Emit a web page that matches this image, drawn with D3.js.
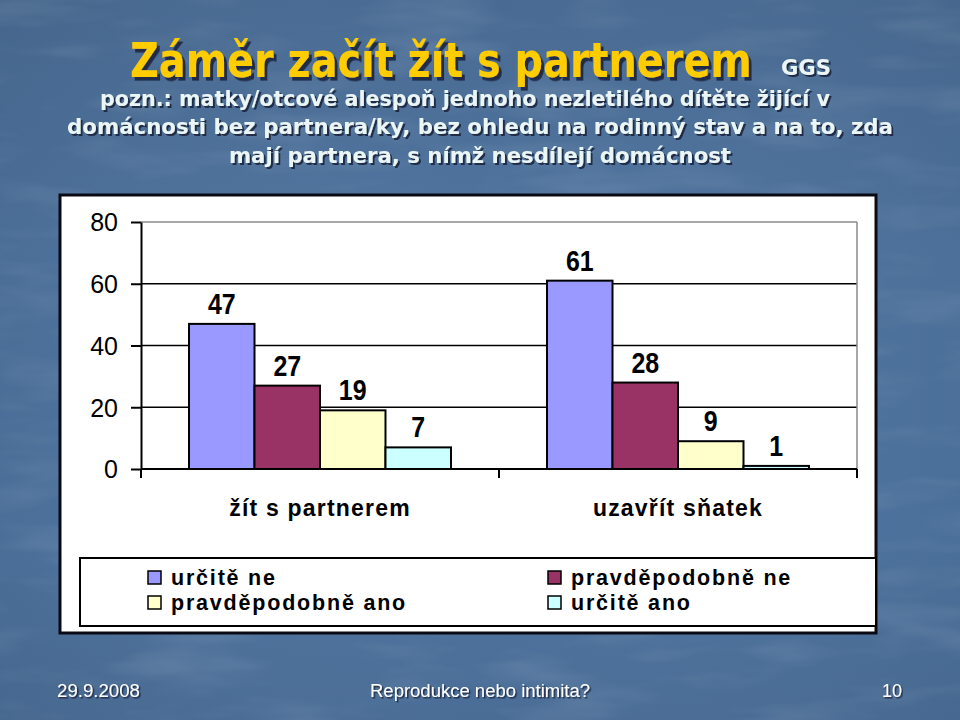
<!DOCTYPE html>
<html><head><meta charset="utf-8">
<script src="https://cdn.jsdelivr.net/npm/d3@7"></script>
<style>body{margin:0;background:#4b6f98;} svg{display:block}</style>
</head><body><svg id="c" width="960" height="720"></svg>
<script>
// ---- data ----
const categories = ["žít s partnerem", "uzavřít sňatek"];
const seriesNames = ["určitě ne", "pravděpodobně ne", "pravděpodobně ano", "určitě ano"];
const zitSPartnerem = [47, 27, 19, 7];
const uzavritSnatek = [61, 28, 9, 1];
const yTicks = [0, 20, 40, 60, 80];
const seriesColors = ["#9999FF", "#993366", "#FFFFCC", "#CCFFFF"];
const titleText = "Záměr začít žít s partnerem";
const tagText = "GGS";
const subtitleLines = [
  "pozn.: matky/otcové alespoň jednoho nezletilého dítěte žijící v",
  "domácnosti bez partnera/ky, bez ohledu na rodinný stav a na to, zda",
  "mají partnera, s nímž nesdílejí domácnost"
];
const footerDate = "29.9.2008";
const footerTitle = "Reprodukce nebo intimita?";
const footerPage = "10";

const table = categories.map((c, i) => ({
  cat: c,
  values: (i === 0 ? zitSPartnerem : uzavritSnatek).map((v, j) => ({ key: seriesNames[j], value: v, color: seriesColors[j] }))
}));

// ---- layout ----
const svg = d3.select("#c");
const defs = svg.append("defs");
const g1 = defs.append("linearGradient").attr("id", "bg").attr("x1", 0).attr("y1", 0).attr("x2", 0).attr("y2", 1);
[[0, "#496b93"], [0.35, "#4f749f"], [0.75, "#4e74a0"], [1, "#4a6d96"]].forEach(([o, c]) => g1.append("stop").attr("offset", o).attr("stop-color", c));
const g2 = defs.append("linearGradient").attr("id", "bg2").attr("x1", 0).attr("y1", 0).attr("x2", 1).attr("y2", 0);
[[0, "#000", 0.05], [0.5, "#fff", 0.0], [1, "#000", 0.04]].forEach(([o, c, a]) => g2.append("stop").attr("offset", o).attr("stop-color", c).attr("stop-opacity", a));
const f = defs.append("filter").attr("id", "tex").attr("x", 0).attr("y", 0).attr("width", 1).attr("height", 1);
f.append("feTurbulence").attr("type", "fractalNoise").attr("baseFrequency", "0.008 0.035").attr("numOctaves", 3).attr("seed", 4);
f.append("feColorMatrix").attr("values", "0 0 0 0 1  0 0 0 0 1  0 0 0 0 1  1.2 0 0 0 -0.55");
function shadowFilter(id, d) {
  const s = defs.append("filter").attr("id", id).attr("x", 0).attr("y", 0).attr("width", 1.03).attr("height", 1.1);
  s.append("feDropShadow").attr("dx", d).attr("dy", d).attr("stdDeviation", 0.5)
    .attr("flood-color", "#16233a").attr("flood-opacity", 0.85);
}
shadowFilter("sh3", 3); shadowFilter("sh2", 2); shadowFilter("sh1", 1.5);

svg.append("rect").attr("width", 960).attr("height", 720).attr("fill", "url(#bg)");
svg.append("rect").attr("width", 960).attr("height", 720).attr("fill", "url(#bg2)");
svg.append("rect").attr("width", 960).attr("height", 720).attr("filter", "url(#tex)").attr("opacity", 0.18);

function shadowText(sel, x, y, txt, opts) {
  return sel.append("text").attr("x", x).attr("y", y).text(txt)
    .attr("font-family", opts.family).attr("font-weight", opts.weight || "bold").attr("font-size", opts.size)
    .attr("fill", opts.fill).attr("text-anchor", opts.anchor || "start")
    .attr("textLength", opts.width || null).attr("lengthAdjust", "spacingAndGlyphs")
    .attr("filter", `url(#${opts.sh})`);
}
// text whose natural width is fitted by font size, then stretched vertically to the wanted glyph height
function fittedText(sel, x, y, txt, opts) {
  const g = sel.append("g");
  const t = g.append("text").attr("x", 0).attr("y", 0).text(txt)
    .attr("font-family", opts.family).attr("font-weight", "bold").attr("font-size", opts.size)
    .attr("fill", opts.fill).attr("filter", `url(#${opts.sh})`);
  const w = t.node().getComputedTextLength();
  const fs = opts.size * opts.width / w;
  t.attr("font-size", fs);
  g.attr("transform", `translate(${x},${y}) scale(1,${opts.size / fs})`);
  return t;
}

// title
const df = "'DejaVu Sans', Verdana, sans-serif";
fittedText(svg, 130, 77, titleText, { family: df, size: 48, fill: "#FFCC00", width: 622, sh: "sh3" });
shadowText(svg, 781, 75, tagText, { family: df, size: 21, fill: "#EAF5F6", width: 50, sh: "sh2" });
const subPos = [[100, 106, 730], [67, 134, 826], [229, 163, 502]];
subtitleLines.forEach((t, i) => shadowText(svg, subPos[i][0], subPos[i][1], t,
  { family: df, size: 22, fill: "#EAF5F6", width: subPos[i][2], sh: "sh2" }));

// footer
const ff = "'Liberation Sans', Arial, sans-serif";
shadowText(svg, 57, 697, footerDate, { family: ff, weight: "normal", size: 18, fill: "#ffffff", width: 83, sh: "sh1" });
shadowText(svg, 370, 697, footerTitle, { family: ff, weight: "normal", size: 18, fill: "#ffffff", width: 220, sh: "sh1" });
shadowText(svg, 882, 697, footerPage, { family: ff, weight: "normal", size: 18, fill: "#ffffff", width: 20, sh: "sh1" });

// chart frame
svg.append("rect").attr("x", 60).attr("y", 195).attr("width", 816).attr("height", 438)
  .attr("fill", "#ffffff").attr("stroke", "#0a0a14").attr("stroke-width", 3);

const plot = { left: 141, right: 857, top: 222, bottom: 469 };
const y = d3.scaleLinear().domain([0, 80]).range([plot.bottom, plot.top]);
const x0 = d3.scaleBand().domain(categories).range([plot.left, plot.right]).padding(0);
const x1 = d3.scaleBand().domain(seriesNames).range([0, x0.bandwidth()]).paddingInner(0).paddingOuter(0.733);

// gridlines
svg.append("g").selectAll("line").data(yTicks.filter(d => d > 0)).join("line")
  .attr("x1", plot.left).attr("x2", plot.right).attr("y1", d => y(d)).attr("y2", d => y(d))
  .attr("stroke", d => d === 80 ? "#8a8a8a" : "#000").attr("stroke-width", d => d === 80 ? 1.5 : 1.6);
svg.append("line").attr("x1", plot.right).attr("x2", plot.right).attr("y1", y(80)).attr("y2", y(0))
  .attr("stroke", "#8a8a8a").attr("stroke-width", 1.5);

// bars
const groups = svg.append("g").selectAll("g").data(table).join("g").attr("transform", d => `translate(${x0(d.cat)},0)`);
groups.selectAll("rect").data(d => d.values).join("rect")
  .attr("x", d => x1(d.key)).attr("width", x1.bandwidth())
  .attr("y", d => y(d.value)).attr("height", d => y(0) - y(d.value))
  .attr("fill", d => d.color).attr("stroke", "#000").attr("stroke-width", 2);
const labels = groups.selectAll("text").data(d => d.values).join("text")
  .attr("x", d => x1(d.key) + x1.bandwidth() / 2).attr("y", d => y(d.value) - 10)
  .attr("text-anchor", "middle").attr("font-family", ff).attr("font-weight", "bold").attr("font-size", 29)
  .attr("fill", "#000").text(d => d.value);
labels.each(function () { const w = this.getComputedTextLength(); d3.select(this).attr("textLength", w * 0.86).attr("lengthAdjust", "spacingAndGlyphs"); });

// y axis
const yAxis = svg.append("g").attr("transform", `translate(${plot.left},0)`)
  .call(d3.axisLeft(y).tickValues(yTicks).tickSize(10).tickSizeOuter(0).tickPadding(13));
yAxis.select(".domain").attr("stroke", "#000").attr("stroke-width", 2);
yAxis.selectAll(".tick line").attr("stroke", "#000").attr("stroke-width", 2);
yAxis.selectAll(".tick text").attr("font-family", ff).attr("font-size", 25).attr("fill", "#000").attr("dy", "0.35em");

// x axis
svg.append("line").attr("x1", plot.left).attr("x2", plot.right).attr("y1", y(0)).attr("y2", y(0)).attr("stroke", "#000").attr("stroke-width", 2);
const bounds = categories.map(c => x0(c)).concat([x0(categories[categories.length - 1]) + x0.bandwidth()]);
svg.append("g").selectAll("line").data(bounds).join("line")
  .attr("x1", d => d).attr("x2", d => d).attr("y1", y(0)).attr("y2", y(0) + 9).attr("stroke", "#000").attr("stroke-width", 2);
svg.append("g").selectAll("text").data(categories).join("text")
  .attr("x", d => x0(d) + x0.bandwidth() / 2).attr("y", 516).attr("text-anchor", "middle")
  .attr("font-family", ff).attr("font-weight", "bold").attr("font-size", 23).attr("letter-spacing", 1.2)
  .attr("fill", "#000").text(d => d);

// legend
svg.append("rect").attr("x", 80).attr("y", 558).attr("width", 796).attr("height", 68)
  .attr("fill", "#fff").attr("stroke", "#000").attr("stroke-width", 2);
const leg = svg.append("g").selectAll("g").data(seriesNames).join("g")
  .attr("transform", (d, i) => `translate(${i % 2 === 0 ? 148 : 548},${Math.floor(i / 2) === 0 ? 585 : 610})`);
leg.append("rect").attr("x", 0).attr("y", -14).attr("width", 13).attr("height", 13)
  .attr("fill", (d, i) => seriesColors[i]).attr("stroke", "#000").attr("stroke-width", 1.5);
leg.append("text").attr("x", 23).attr("y", 0).attr("font-family", ff).attr("font-weight", "bold")
  .attr("font-size", 21.5).attr("letter-spacing", 1.8).attr("fill", "#000").text(d => d);
</script></body></html>
